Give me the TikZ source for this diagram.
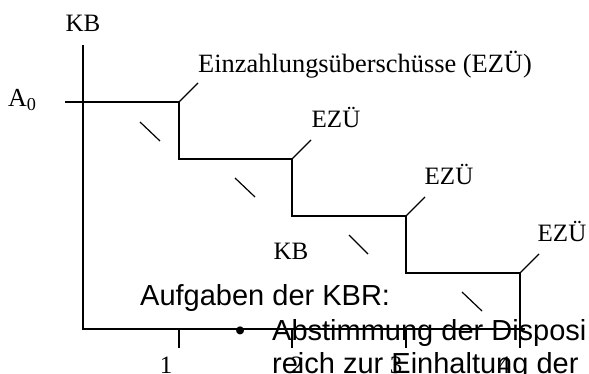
\documentclass[tikz,border=0pt]{standalone}
\usepackage{fontspec}
\setmainfont{Liberation Serif}
\newfontfamily\arialf{Liberation Sans}
\begin{document}
\begin{tikzpicture}[x=1pt,y=-1pt,
  ln/.style={line width=1.2pt,line cap=butt},
  serif/.style={inner sep=0pt,font=\fontsize{25}{30}\selectfont},
  sans/.style={inner sep=0pt,font=\arialf\fontsize{29}{34}\selectfont}]
\useasboundingbox (0,0) rectangle (589,374);
\clip (0,0) rectangle (589,374);
% axes
\coordinate (O) at (83,329);
\coordinate (Ytop) at (83,45);
\coordinate (Xend) at (525,329);
\draw[ln] (Ytop) -- (O) -- (Xend);
% staircase
\coordinate (S0) at (65,102);
\coordinate (C1) at (179,102);
\coordinate (C2) at (292,159);
\coordinate (C3) at (406,216);
\coordinate (C4) at (520,273);
\draw[ln] (S0) -- (C1) -- (179,159) -- (C2) -- (292,216) -- (C3) -- (406,273) -- (C4) -- (520,348);
% ticks
\foreach \x in {179,292,406}{\draw[ln] (\x,329) -- (\x,348);}
% corner slashes
\draw[ln] (C1) -- ++(19,-19);
\draw[ln] (C2) -- ++(19,-19);
\draw[ln] (C3) -- ++(19,-19);
\draw[ln] (C4) -- ++(19,-19);
% backslash dashes
\draw[ln] (140,122) -- (160,141);
\draw[ln] (235,178) -- (255,197);
\draw[ln] (349,235) -- (368,254);
\draw[ln] (462,292) -- (482,311);
% labels
\node[serif,anchor=base] (kbtop) at (83,32) {KB};
\node[serif,anchor=base west,font=\fontsize{26}{30}\selectfont] (a0) at (8,107) {A\textsubscript{0}};
\node[serif,anchor=base west,font=\fontsize{26.4}{30}\selectfont] (ein) at (198,73) {Einzahlungsüberschüsse (EZÜ)};
\node[serif,anchor=base] (e1) at (336,128) {EZÜ};
\node[serif,anchor=base] (e2) at (449,185) {EZÜ};
\node[serif,anchor=base] (e3) at (562,242) {EZÜ};
\node[serif,anchor=base] (kbmid) at (291,259) {KB};
\node[serif,anchor=base] (t1) at (166,373) {1};
\node[serif,anchor=base] (t2) at (297,373) {2};
\node[serif,anchor=base] (t3) at (396,373) {3};
\node[serif,anchor=base] (t4) at (504,373) {4};
% text
\node[sans,anchor=base west] (auf) at (140,305) {Aufgaben der KBR:};
\node[sans,anchor=base west] (bul) at (235,340) {•};
\node[sans,anchor=base west] (l1) at (272,340) {Abstimmung der Disposi};
\node[sans,anchor=base west] (l2) at (272,373) {reich zur Einhaltung der};
\end{tikzpicture}
\end{document}
